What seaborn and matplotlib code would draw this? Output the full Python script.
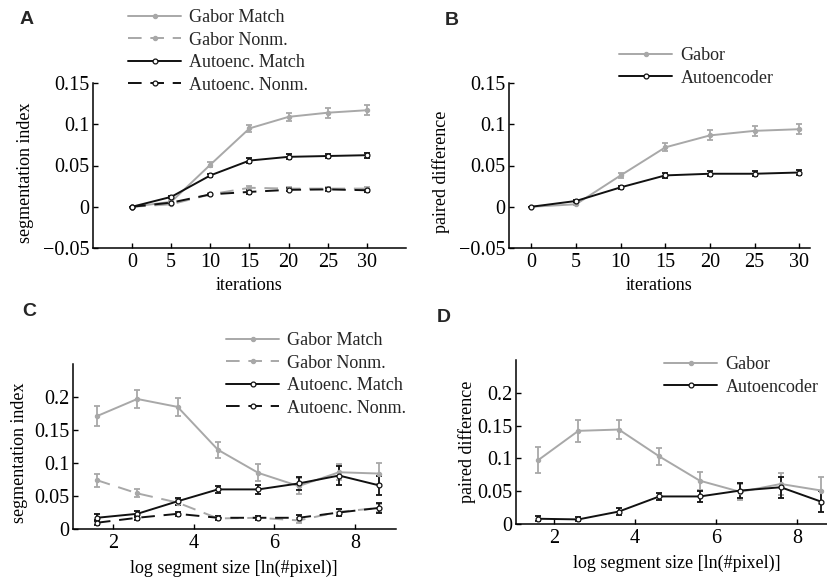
import numpy as np
import pandas as pd
import matplotlib
matplotlib.use("Agg")
import matplotlib.pyplot as plt
import seaborn as sns

# ---------------- data ----------------
iters = [0, 5, 10, 15, 20, 25, 30]
A_gabor_match = [0.0, 0.006, 0.051, 0.095, 0.109, 0.114, 0.117]
A_gabor_match_err = [0.0, 0.002, 0.003, 0.004, 0.005, 0.006, 0.006]
A_gabor_nonm = [0.0, 0.003, 0.015, 0.023, 0.022, 0.022, 0.022]
A_gabor_nonm_err = [0.0, 0.001, 0.002, 0.002, 0.002, 0.002, 0.002]
A_auto_match = [0.0, 0.012, 0.038, 0.056, 0.0605, 0.0615, 0.0625]
A_auto_match_err = [0.0, 0.001, 0.002, 0.003, 0.003, 0.003, 0.003]
A_auto_nonm = [0.0, 0.005, 0.015, 0.018, 0.0205, 0.021, 0.020]
A_auto_nonm_err = [0.0, 0.001, 0.001, 0.002, 0.002, 0.002, 0.002]

B_gabor = [0.0, 0.003, 0.038, 0.072, 0.0865, 0.092, 0.094]
B_gabor_err = [0.0, 0.001, 0.003, 0.005, 0.006, 0.006, 0.006]
B_auto = [0.0, 0.007, 0.0235, 0.038, 0.040, 0.040, 0.0415]
B_auto_err = [0.0, 0.001, 0.002, 0.003, 0.003, 0.003, 0.003]

logsize = [1.6, 2.6, 3.6, 4.6, 5.6, 6.6, 7.6, 8.6]
C_gabor_match = [0.171, 0.197, 0.185, 0.120, 0.085, 0.065, 0.086, 0.084]
C_gabor_match_err = [0.015, 0.014, 0.014, 0.012, 0.013, 0.012, 0.012, 0.016]
C_gabor_nonm = [0.074, 0.054, 0.040, 0.016, 0.017, 0.013, 0.026, 0.032]
C_gabor_nonm_err = [0.010, 0.006, 0.004, 0.003, 0.003, 0.004, 0.005, 0.006]
C_auto_match = [0.017, 0.023, 0.042, 0.060, 0.060, 0.069, 0.081, 0.066]
C_auto_match_err = [0.005, 0.005, 0.005, 0.005, 0.007, 0.010, 0.015, 0.014]
C_auto_nonm = [0.0095, 0.017, 0.023, 0.017, 0.017, 0.017, 0.025, 0.032]
C_auto_nonm_err = [0.004, 0.003, 0.003, 0.003, 0.003, 0.004, 0.005, 0.007]

D_gabor = [0.097, 0.142, 0.144, 0.103, 0.066, 0.049, 0.061, 0.051]
D_gabor_err = [0.020, 0.017, 0.015, 0.013, 0.014, 0.012, 0.017, 0.020]
D_auto = [0.008, 0.007, 0.019, 0.042, 0.042, 0.051, 0.056, 0.034]
D_auto_err = [0.004, 0.003, 0.005, 0.006, 0.008, 0.012, 0.016, 0.016]

A_yticks = [-0.05, 0, 0.05, 0.1, 0.15]
A_yticklabels = ["\u22120.05", "0", "0.05", "0.1", "0.15"]
C_yticks = [0, 0.05, 0.1, 0.15, 0.2]
C_yticklabels = ["0", "0.05", "0.1", "0.15", "0.2"]
iter_ticks = [0, 5, 10, 15, 20, 25, 30]
size_ticks = [2, 4, 6, 8]

labels4 = ["Gabor Match", "Gabor Nonm.", "Autoenc. Match", "Autoenc. Nonm."]
labels2 = ["Gabor", "Autoencoder"]

# ---------------- style ----------------
sns.set_theme(style="ticks")
plt.rcParams["font.family"] = ["Liberation Serif", "DejaVu Serif"]
plt.rcParams["axes.linewidth"] = 1.1

GRAY = "#a8a8a8"
BLACK = "#111111"
DASH = (0, (7, 4.5))
TICK_FS = 14.5
LAB_FS = 13
LEG_FS = 13

fig = plt.figure(figsize=(8.28, 5.79), dpi=100)
W, H = 828, 579


def axes_px(left, top, right, bottom):
    return fig.add_axes([left / W, 1 - bottom / H, (right - left) / W, (bottom - top) / H])


def series(ax, x, y, err, color, ls, face, ms, label):
    ax.errorbar(x, y, yerr=err, fmt="none", ecolor=color, elinewidth=1.3,
                capsize=2.2, capthick=1.3, zorder=2)
    df = pd.DataFrame({"x": x, "y": y})
    sns.lineplot(data=df, x="x", y="y", ax=ax, color=color, linestyle=ls,
                 marker="o", markersize=ms, markerfacecolor=face,
                 markeredgecolor=color, markeredgewidth=0.9, linewidth=1.4,
                 label=label, errorbar=None, zorder=3)


def style_axes(ax, xlim, ylim, xticks, yticks, yticklabels, xlabel, ylabel,
               ylab_x, ylab_y, xlab_y):
    ax.set_xlim(*xlim)
    ax.set_ylim(*ylim)
    ax.set_xticks(xticks)
    ax.set_xticklabels([str(t) for t in xticks])
    ax.set_yticks(yticks)
    ax.set_yticklabels(yticklabels)
    sns.despine(ax=ax)
    for s in ["left", "bottom"]:
        ax.spines[s].set_color("black")
    ax.tick_params(direction="in", length=3.5, width=1.0, colors="black",
                   labelsize=TICK_FS, pad=3.5)
    ax.tick_params(axis="y", pad=2.5)
    ax.set_xlabel(xlabel, fontsize=LAB_FS, color="black")
    ax.set_ylabel(ylabel, fontsize=LAB_FS, color="black")
    ax.yaxis.set_label_coords(ylab_x, ylab_y)
    ax.xaxis.set_label_coords(0.5, xlab_y)
    ax.grid(False)


def legend(ax, anchor_px):
    ax.legend(loc="upper left", bbox_to_anchor=(anchor_px[0] / W, 1 - anchor_px[1] / H),
              bbox_transform=fig.transFigure, frameon=False, fontsize=LEG_FS,
              handlelength=2.95, handletextpad=0.45, labelspacing=0.31,
              borderpad=0, borderaxespad=0, numpoints=1)


# ---- Panel A ----
axA = axes_px(93, 83, 406, 248)
series(axA, iters, A_gabor_match, A_gabor_match_err, GRAY, "-", GRAY, 3.0, labels4[0])
series(axA, iters, A_gabor_nonm, A_gabor_nonm_err, GRAY, DASH, GRAY, 3.0, labels4[1])
series(axA, iters, A_auto_match, A_auto_match_err, BLACK, "-", "white", 3.5, labels4[2])
series(axA, iters, A_auto_nonm, A_auto_nonm_err, BLACK, DASH, "white", 3.5, labels4[3])
style_axes(axA, (-5, 35), (-0.05, 0.15), iter_ticks, A_yticks, A_yticklabels,
           "iterations", "segmentation index", -0.19, 0.455, -0.175)
legend(axA, (128, 9))

# ---- Panel B ----
axB = axes_px(509, 83, 810, 248)
series(axB, iters, B_gabor, B_gabor_err, GRAY, "-", GRAY, 3.0, labels2[0])
series(axB, iters, B_auto, B_auto_err, BLACK, "-", "white", 3.5, labels2[1])
style_axes(axB, (-2.5, 31.2), (-0.05, 0.15), iter_ticks, A_yticks, A_yticklabels,
           "iterations", "paired difference", -0.196, 0.46, -0.175)
legend(axB, (619, 47))

# ---- Panel C ----
axC = axes_px(72.7, 364, 395.5, 529)
series(axC, logsize, C_gabor_match, C_gabor_match_err, GRAY, "-", GRAY, 3.0, labels4[0])
series(axC, logsize, C_gabor_nonm, C_gabor_nonm_err, GRAY, DASH, GRAY, 3.0, labels4[1])
series(axC, logsize, C_auto_match, C_auto_match_err, BLACK, "-", "white", 3.5, labels4[2])
series(axC, logsize, C_auto_nonm, C_auto_nonm_err, BLACK, DASH, "white", 3.5, labels4[3])
style_axes(axC, (1, 9), (0, 0.25), size_ticks, C_yticks, C_yticklabels,
           "log segment size [ln(#pixel)]", "segmentation index", -0.14, 0.46, -0.185)
legend(axC, (226, 332))

# ---- Panel D ----
axD = axes_px(516, 360, 837.5, 524)
series(axD, logsize, D_gabor, D_gabor_err, GRAY, "-", GRAY, 3.0, labels2[0])
series(axD, logsize, D_auto, D_auto_err, BLACK, "-", "white", 3.5, labels2[1])
style_axes(axD, (1.06, 9), (0, 0.25), size_ticks, C_yticks, C_yticklabels,
           "log segment size [ln(#pixel)]", "paired difference", -0.125, 0.5, -0.19)
legend(axD, (664, 356))

# ---- panel letters ----
for letter, xp, yp in [("A", 20, 24), ("B", 445, 25), ("C", 22, 316), ("D", 437, 322)]:
    fig.text(xp / W, 1 - yp / H, letter, fontsize=14, fontweight="bold",
             family=["Liberation Sans", "DejaVu Sans"], va="baseline", ha="left")

fig.savefig("out.png", dpi=100)
